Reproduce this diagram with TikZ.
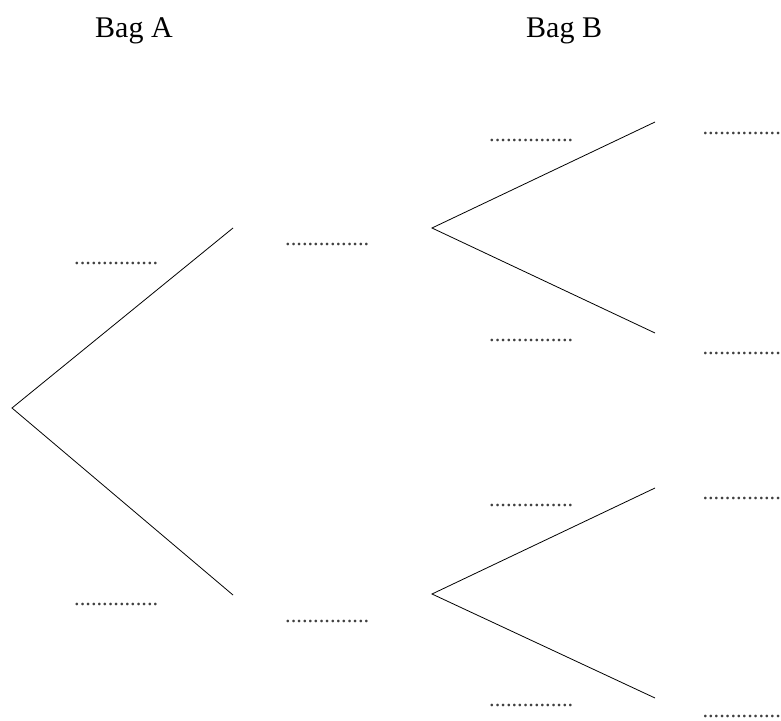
\documentclass[tikz,border=0pt]{standalone}
\usepackage{fontspec}
\setmainfont{Liberation Serif}
\begin{document}
\begin{tikzpicture}[x=1pt,y=-1pt,
  branch/.style={line width=0.8pt},
  title/.style={anchor=base west,inner sep=0pt,font=\fontsize{30}{36}\selectfont},
  blank/.style={anchor=base west,inner sep=0pt,text=black!75,font=\fontsize{22.4}{26}\selectfont}]
\useasboundingbox (0,0) rectangle (781,720);
\node[title] (ta) at (95,37) {Bag A};
\node[title] (tb) at (526,37) {Bag B};
% tree nodes
\coordinate (r) at (12,408);
\coordinate (a1) at (233,228);
\coordinate (a2) at (233,595);
\coordinate (b1) at (432,228);
\coordinate (b2) at (432,594);
\coordinate (c1) at (655,122);
\coordinate (c2) at (655,333);
\coordinate (c3) at (655,488);
\coordinate (c4) at (655,698);
\draw[branch] (a1) -- (r) -- (a2);
\draw[branch] (c1) -- (b1) -- (c2);
\draw[branch] (c3) -- (b2) -- (c4);
% blanks
\node[blank] (l1) at (74,264.5) {...............};
\node[blank] (l2) at (74,605.5) {...............};
\node[blank] (l3) at (285,245.5) {...............};
\node[blank] (l4) at (285,622.5) {...............};
\node[blank] (l5) at (489,141.5) {...............};
\node[blank] (l6) at (489,341.5) {...............};
\node[blank] (l7) at (489,506.5) {...............};
\node[blank] (l8) at (489,706.5) {...............};
\node[blank] (l9) at (702.3,134.5) {..............};
\node[blank] (l10) at (702.3,354.5) {..............};
\node[blank] (l11) at (702.3,499.5) {..............};
\node[blank] (l12) at (702.3,717.2) {..............};
\end{tikzpicture}
\end{document}
